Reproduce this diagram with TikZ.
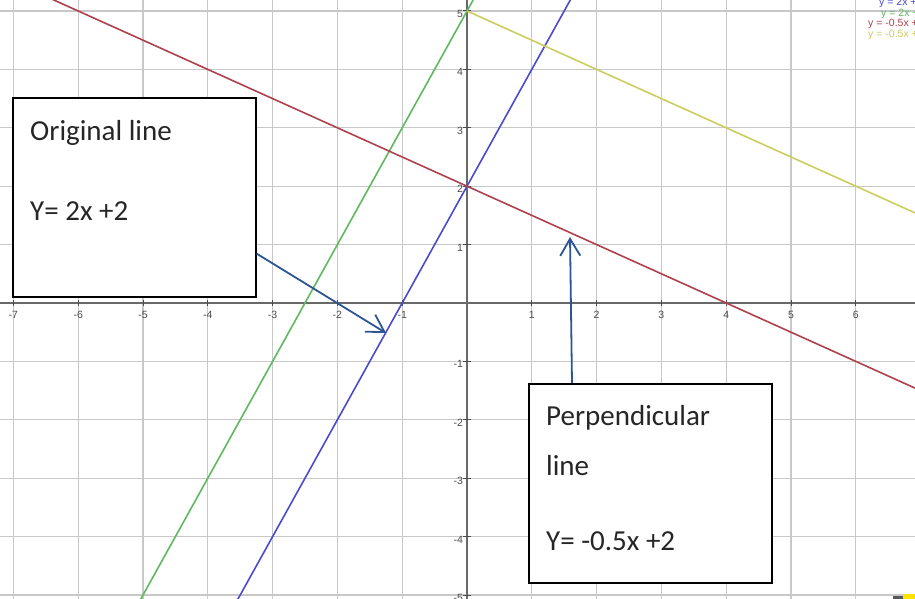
\documentclass[tikz,border=0pt]{standalone}
\usepackage{fontspec}
\setmainfont{Carlito}
\newfontfamily\tickfont{Liberation Sans}
\usetikzlibrary{arrows.meta}
\definecolor{gridgray}{RGB}{200,200,200}
\definecolor{axisgray}{RGB}{105,105,105}
\definecolor{lred}{RGB}{175,65,78}
\definecolor{lgreen}{RGB}{95,185,95}
\definecolor{lblue}{RGB}{75,75,205}
\definecolor{lyellow}{RGB}{205,205,95}
\definecolor{arrowblue}{RGB}{45,85,150}
\begin{document}
\begin{tikzpicture}[x=1pt,y=-1pt,
  box/.style={draw=black, line width=1.6pt, fill=white, inner sep=0pt},
  lbl/.style={font=\fontsize{29}{34}\selectfont, inner sep=0pt, anchor=base west, text=black!85},
  ticklbl/.style={font=\tickfont\fontsize{10.5}{11}\selectfont, text=black!70, inner sep=0pt},
  legendlbl/.style={font=\tickfont\fontsize{10.5}{11}\selectfont, inner sep=0pt, anchor=base west},
  pointer/.style={arrowblue, line width=1.8pt, -{Straight Barb[length=17pt,width=20pt,line width=1.8pt]}},
  graphline/.style={line width=1.6pt}]
\clip (0,0) rectangle (915,599);
\fill[white] (0,0) rectangle (915,599);
\begin{scope}[shift={(467,303)}, x=64.8pt, y=58.4pt]
  % grid
  \foreach \u in {-7,...,6}
    \draw[gridgray, line width=1.3pt] (\u,-5.3) -- (\u,5.3);
  \foreach \v in {-5,...,5}
    \draw[gridgray, line width=1.3pt] (-7.3,\v) -- (7,\v);
  % axes
  \draw[axisgray, line width=2.4pt] (-7.3,0) -- (7,0);
  \draw[axisgray, line width=2.4pt] (0,-5.3) -- (0,5.3);
  % ticks and labels
  \foreach \u in {-7,...,-1,1,2,...,6} {
    \draw[black!70, line width=1pt] (\u,-0.05) -- (\u,0.05);
    \node[ticklbl] (xl\u) at (\u,-0.21) {\u};
  }
  \foreach \v in {-5,...,-1,1,2,...,5} {
    \draw[black!70, line width=1pt] (-0.06,\v) -- (0.06,\v);
    \node[ticklbl, anchor=east] (yl\v) at (-0.06,\v-0.05) {\v};
  }
  % lines
  \draw[graphline, lgreen] (-5.15,-5.3) -- (0.1,5.2);
  \draw[graphline, lblue] (-3.65,-5.3) -- (1.6,5.2);
  \draw[graphline, lred] (-6.4,5.2) -- (7,-1.5);
  \draw[graphline, lyellow] (0,5) -- (7,1.5);
\end{scope}
% legend (cut off at the right edge)
\node[legendlbl, text=lblue] (lg1) at (879,6) {y = 2x + 2};
\node[legendlbl, text=lgreen] (lg2) at (881,17) {y = 2x + 5};
\node[legendlbl, text=lred] (lg3) at (868,27) {y = -0.5x + 2};
\node[legendlbl, text=lyellow] (lg4) at (868,38) {y = -0.5x + 5};
% boxes
\node[box, anchor=north west, minimum width=243pt, minimum height=199pt] (b1) at (12,97) {};
\node[box, anchor=north west, minimum width=243pt, minimum height=199pt] (b2) at (528,383) {};
\node[lbl] (t1) at (30,140) {Original line};
\node[lbl] (t2) at (30,220) {Y= 2x +2};
\node[lbl] (t3) at (546,425) {Perpendicular};
\node[lbl] (t4) at (546,475) {line};
\node[lbl] (t5) at (546,550) {Y= -0.5x +2};
% pointers
\coordinate (p1) at (386,333);
\coordinate (p2) at (570,237);
\draw[pointer] ([yshift=44pt]b1.south east) -- (p1);
\draw[pointer] ([xshift=44pt]b2.north west) -- (p2);
% small cut-off icon at the bottom right
\fill[black!65] (893,596) rectangle (903,599);
\fill[yellow!85!orange] (903,594) rectangle (915,599);
\end{tikzpicture}
\end{document}
